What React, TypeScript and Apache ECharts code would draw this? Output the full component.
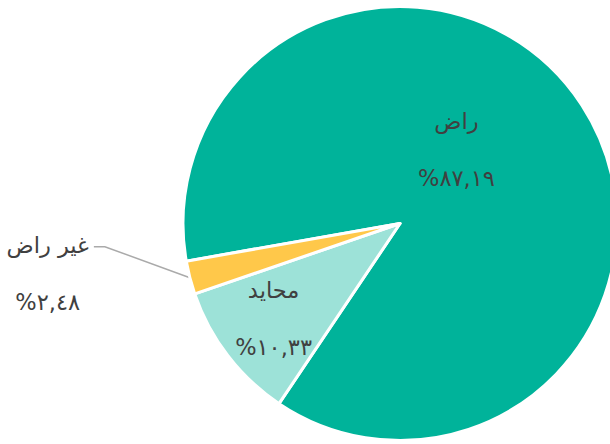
import React, { useEffect, useRef } from "react";
import * as echarts from "echarts";

const categories = ["راض", "محايد", "غير راض"];
const values = [87.19, 10.33, 2.48];
const colors = ["#00B39A", "#9DE2D8", "#FFC84A"];

const toArabicDigits = (s: string) =>
  s.replace(/[0-9]/g, (d) => String.fromCharCode(0x0660 + Number(d)));

export default function App() {
  const ref = useRef<HTMLDivElement>(null);
  useEffect(() => {
    if (!ref.current) return;
    const chart = echarts.init(ref.current, null, { renderer: "svg" });
    const rich = {
      n: { fontSize: 22.5, lineHeight: 57, color: "#404040", fontFamily: "DejaVu Sans" },
      p: { fontSize: 22.5, lineHeight: 57, color: "#404040", fontFamily: "DejaVu Sans" },
    };
    chart.setOption({
      animation: false,
      series: [
        {
          type: "pie",
          center: [400, 223.5],
          radius: 217,
          startAngle: 190,
          clockwise: true,
          avoidLabelOverlap: false,
          itemStyle: { borderColor: "#ffffff", borderWidth: 3 },
          label: {
            show: true,
            position: "inside",
            formatter: (p: any) =>
              `{n|${p.name}}\n{p|%${toArabicDigits(Number(p.value).toFixed(2).replace(".", ","))}}`,
            rich,
          },
          labelLine: { show: false },
          emphasis: { disabled: true },
          data: categories.map((name, i) => {
            const item: any = { name, value: values[i], itemStyle: { color: colors[i] } };
            if (i === 2) {
              item.label = { position: "outside" };
              item.labelLine = {
                show: true,
                length: 20,
                length2: 10,
                lineStyle: { color: "#aaaaaa", width: 1.5 },
              };
            }
            return item;
          }),
          labelLayout: (params: any) => {
            const i = params.dataIndex;
            if (i === 0) return { dx: -37, dy: -13 };
            if (i === 1) return { dx: -38, dy: 27 };
            const pts = params.labelLinePoints;
            if (!pts) return {};
            const p0 = pts[0];
            const p1 = [p0[0] - 85, p0[1] - 31];
            const p2 = [p1[0] - 11, p1[1]];
            const w = params.labelRect.width;
            return {
              x: p2[0] - 5 - w / 2,
              y: p2[1] + 26.5,
              align: "center",
              verticalAlign: "middle",
              labelLinePoints: [p0, p1, p2],
            };
          },
        },
      ],
    });
    return () => chart.dispose();
  }, []);
  return (
    <div
      ref={ref}
      style={{ position: "absolute", left: 0, top: 0, width: 610, height: 444 }}
    />
  );
}
